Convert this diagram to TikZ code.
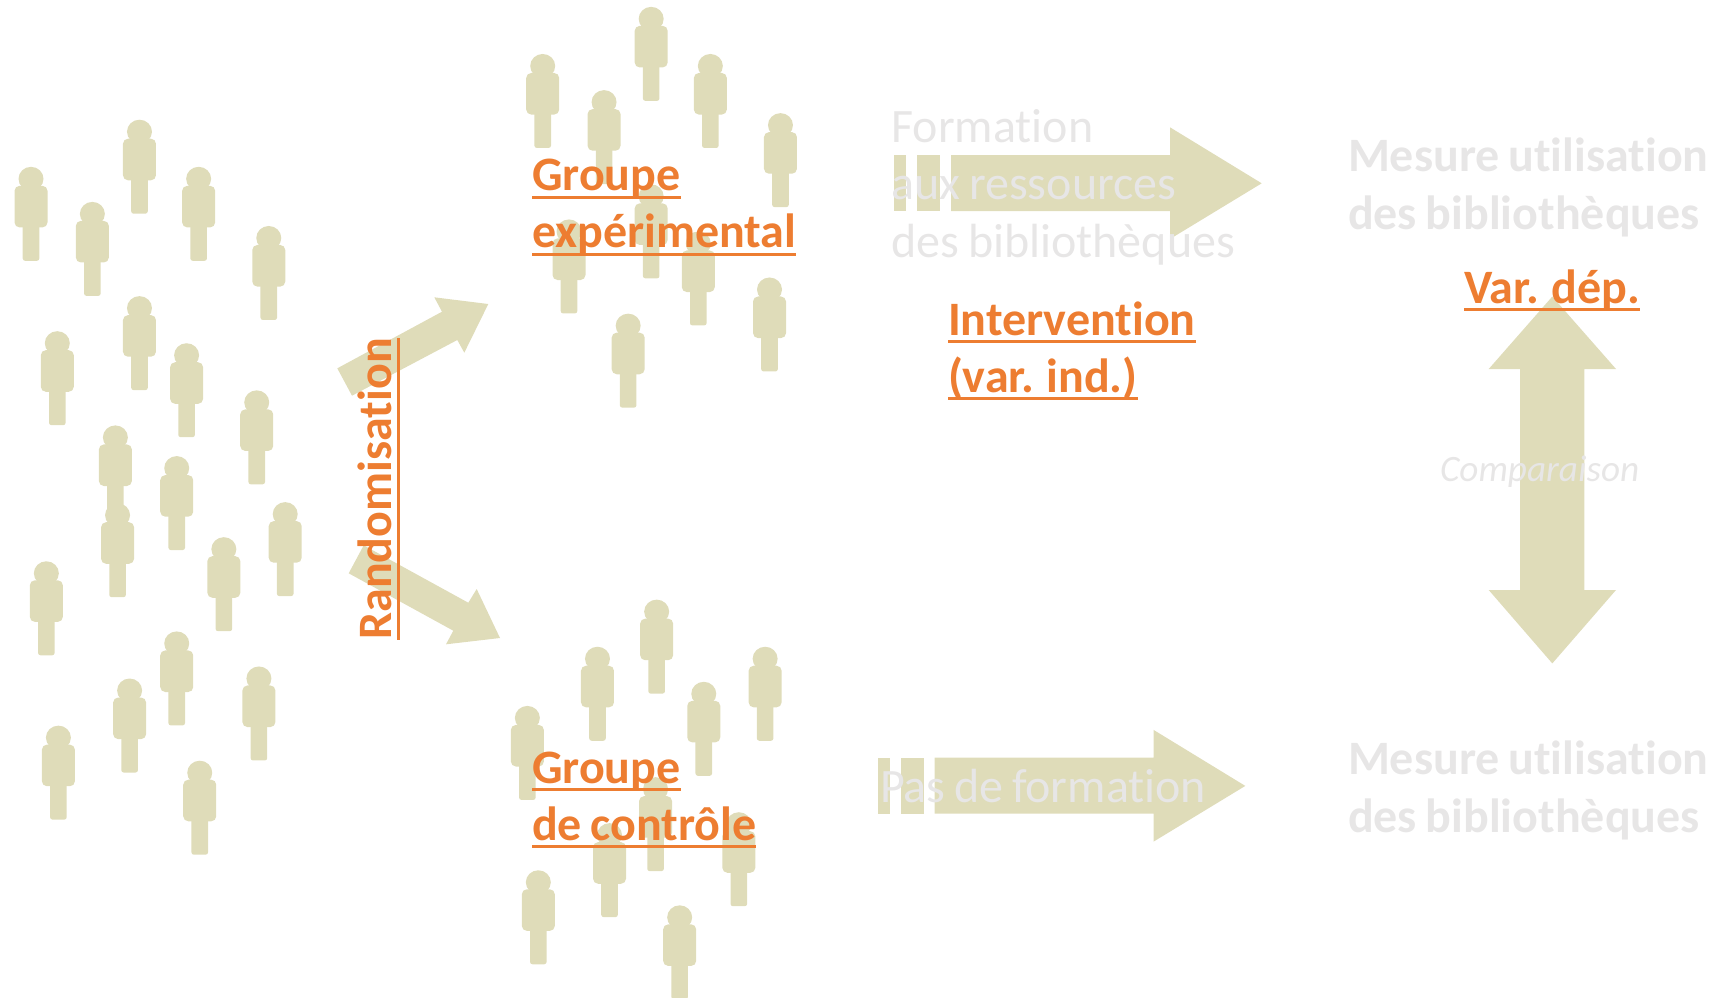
\documentclass[tikz,border=0pt]{standalone}
\usepackage{fontspec}
\setmainfont[Ligatures=NoCommon,WordSpace=0.8]{Carlito}
\definecolor{beige}{RGB}{223,220,185}
\definecolor{paleg}{RGB}{231,230,230}
\definecolor{orng}{RGB}{237,125,49}
\newcommand{\ulbar}[1]{\setbox0\hbox{#1}\rlap{\raisebox{-0.175em}{\color{orng}\rule{\wd0}{0.07em}}}#1}
\tikzset{
  lbl/.style={anchor=base west,inner sep=0pt,outer sep=0pt,font=\fontsize{24}{28}\selectfont},
  palelbl/.style={lbl,text=paleg},
  palebold/.style={lbl,text=paleg,font=\fontsize{24}{28}\selectfont\bfseries},
  orangelbl/.style={lbl,text=orng,font=\fontsize{24}{28}\selectfont\bfseries},
  person/.pic={
    \fill[beige] (0,0) ellipse [x radius=12.5,y radius=12];
    \fill[beige,rounded corners=2.5pt] (-16.5,7) rectangle (16.5,48.6);
    \fill[beige,rounded corners=1.2pt] (-8.3,40) rectangle (8.3,82);
  }
}
\begin{document}
\begin{tikzpicture}[x=0.5pt,y=-0.5pt]
\useasboundingbox (0,0) rectangle (1718,997);
% crowds (head centres in 1568-wide coordinates)
\foreach \hx/\hy in {127/119,28/162,84/194,181/162,245/216,52/312,127/280,170/323,234/366,105/398,161/426,107/469,260/468,204/500,42/522,161/586,118/629,236/618,53/672,182/704,
  594/16,495/59,551/92,648/59,712/113,594/178,519/210,637/221,702/263,573/296,
  599/557,545/600,698/600,642/632,481/654,598/719,556/761,674/751,491/804,620/836}
  \pic at ({(\hx+0.3)*1.0957},{(\hy+1.2)*1.0957}) {person};
% randomisation arrows
\fill[beige] (337.3,368.3) -- (442,311.7) -- (434.3,297.3) -- (488.3,304) -- (464.3,352.7) -- (457.3,340) -- (352,395.7) -- cycle;
\fill[beige] (363.7,545.3) -- (468.3,602.7) -- (476.7,589) -- (500,638) -- (446,644.3) -- (453.3,630.7) -- (348.7,573.3) -- cycle;
% horizontal arrows
\foreach \dx/\dy in {0/0,-16.4/602.6}{
  \begin{scope}[shift={(\dx,\dy)}]
  \fill[beige] (894,155) rectangle (906,211);
  \fill[beige] (917,155) rectangle (940,211);
  \fill[beige] (951,155) -- (1170,155) -- (1170,127.3) -- (1261.7,183.3) -- (1170,239) -- (1170,211) -- (951,211) -- cycle;
  \end{scope}
}
% double arrow
\fill[beige] (1552.3,296.5) -- (1616,369) -- (1584.3,369) -- (1584.3,590) -- (1616,590) -- (1552.3,663.4) -- (1488.7,590) -- (1520,590) -- (1520,369) -- (1488.7,369) -- cycle;
% pale texts
\node[palelbl] (f1) at (891.5,142.7) {Formation};
\node[palelbl] (f2) at (891.5,199.7) {aux ressources};
\node[palelbl] (f3) at (891.5,257.2) {des bibliothèques};
\node[palelbl] (pf) at (880,802) {Pas de formation};
\node[palebold] (m1) at (1348,171) {Mesure utilisation};
\node[palebold] (m2) at (1348,229) {des bibliothèques};
\node[palebold] (m3) at (1348,774) {Mesure utilisation};
\node[palebold] (m4) at (1348,832) {des bibliothèques};
\node[lbl,text=paleg,font=\fontsize{18.6}{22}\selectfont\itshape] (cmp) at (1440,481.7) {Comparaison};
% orange labels
\node[orangelbl] (g1) at (532,190.5) {\ulbar{Groupe}};
\node[orangelbl] (g2) at (532,247.5) {\ulbar{expérimental}};
\node[orangelbl] (c1) at (532,783) {\ulbar{Groupe}};
\node[orangelbl] (c2) at (532,840) {\ulbar{de contrôle}};
\node[orangelbl] (i1) at (948,335) {\ulbar{Intervention}};
\node[orangelbl] (i2) at (948,392) {\ulbar{(var. ind.)}};
\node[orangelbl] (v) at (1464,303) {\ulbar{Var. dép.}};
\node[orangelbl,rotate=90] (r) at (391.5,639.5) {\ulbar{Randomisation}};
\end{tikzpicture}
\end{document}
